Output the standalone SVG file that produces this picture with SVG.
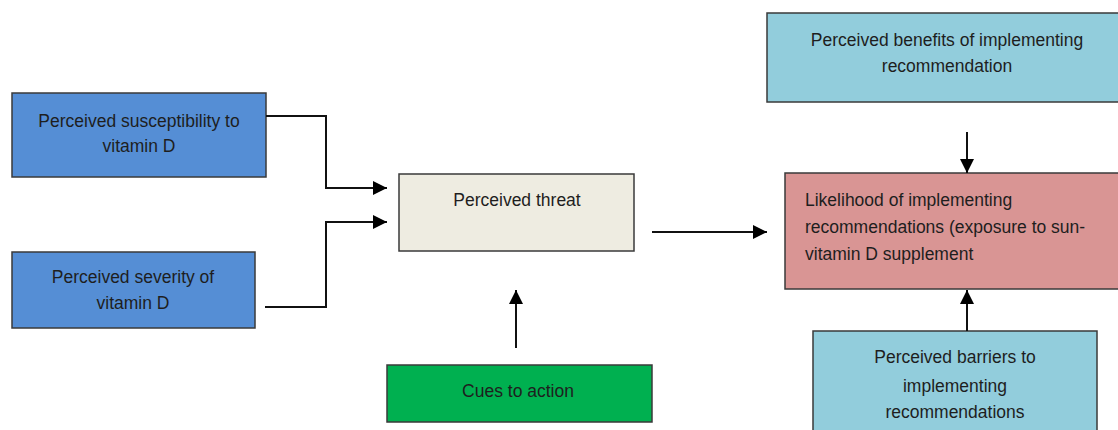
<svg xmlns="http://www.w3.org/2000/svg" width="1118" height="430" viewBox="0 0 1118 430">
<style>
.box{stroke:#3a3a3a;stroke-width:1.5}
.t{font-family:"Liberation Sans",Arial,sans-serif;font-size:17.5px;fill:#1e1e1e}
.c{text-anchor:middle}
.line{fill:none;stroke:#111;stroke-width:2}
</style>
<defs>
<marker id="ah" viewBox="0 0 10 10" refX="10" refY="5" markerWidth="7" markerHeight="7" orient="auto" markerUnits="strokeWidth">
<path d="M0,0 L10,5 L0,10 z" fill="#000"/>
</marker>
</defs>
<rect width="1118" height="430" fill="#fff"/>
<g id="susceptibility">
<rect class="box" x="12" y="93" width="254" height="84" fill="#558ED5"/>
<text class="t c" x="139" y="127">Perceived susceptibility to</text>
<text class="t c" x="139" y="152">vitamin D</text>
</g>
<g id="severity">
<rect class="box" x="12" y="252" width="243" height="76" fill="#558ED5"/>
<text class="t c" x="133" y="283">Perceived severity of</text>
<text class="t c" x="133" y="309">vitamin D</text>
</g>
<g id="threat">
<rect class="box" x="399" y="174" width="235" height="77" fill="#EEECE1"/>
<text class="t c" x="517" y="206">Perceived threat</text>
</g>
<g id="cues">
<rect class="box" x="387" y="365" width="265" height="57" fill="#00B050"/>
<text class="t c" x="518" y="397">Cues to action</text>
</g>
<g id="benefits">
<rect class="box" x="767" y="13" width="360" height="89" fill="#92CDDC"/>
<text class="t c" x="947" y="46">Perceived benefits of implementing</text>
<text class="t c" x="947" y="72">recommendation</text>
</g>
<g id="likelihood">
<rect class="box" x="785" y="173" width="340" height="116" fill="#D99594"/>
<text class="t" x="805" y="206">Likelihood of implementing</text>
<text class="t" x="805" y="233">recommendations (exposure to sun-</text>
<text class="t" x="805" y="260">vitamin D supplement</text>
</g>
<g id="barriers">
<rect class="box" x="813" y="331" width="284" height="110" fill="#92CDDC"/>
<text class="t c" x="955" y="363">Perceived barriers to</text>
<text class="t c" x="955" y="392">implementing</text>
<text class="t c" x="955" y="418">recommendations</text>
</g>
<g id="connectors">
<path class="line" d="M266,116 H326 V188 H387" marker-end="url(#ah)"/>
<path class="line" d="M265,307 H326 V222 H387" marker-end="url(#ah)"/>
<path class="line" d="M652,232 H767" marker-end="url(#ah)"/>
<path class="line" d="M516,348 V290" marker-end="url(#ah)"/>
<path class="line" d="M967,132 V173" marker-end="url(#ah)"/>
<path class="line" d="M967,331 V290" marker-end="url(#ah)"/>
</g>
</svg>
